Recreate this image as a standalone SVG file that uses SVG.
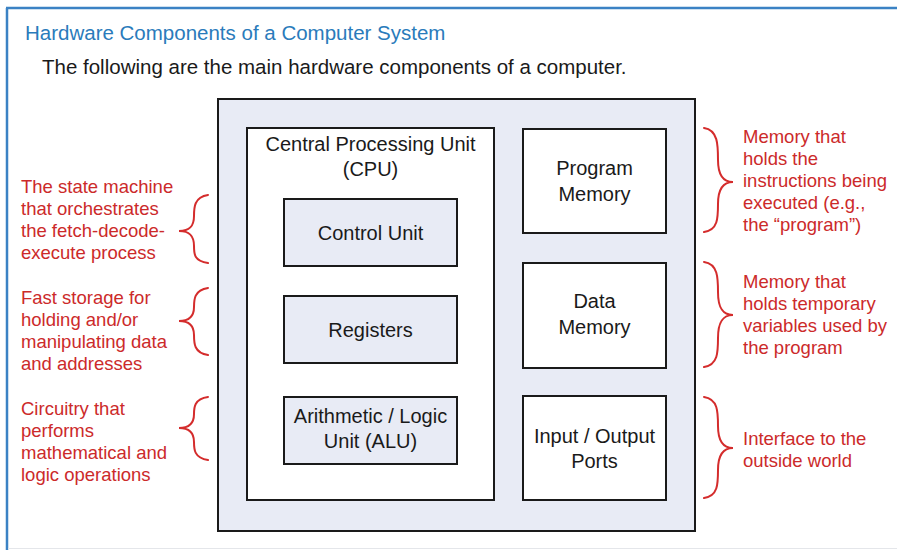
<svg xmlns="http://www.w3.org/2000/svg" width="897" height="550" viewBox="0 0 897 550">
<style>
.frame{stroke:#3b82c4;stroke-width:2.5;fill:none}
.title{font-family:"Liberation Sans",Arial,sans-serif;font-size:20.5px;fill:#2a7bbb}
.sub{font-family:"Liberation Sans",Arial,sans-serif;font-size:20.5px;fill:#1a1a1a}
.box{stroke:#1a1a1a;stroke-width:2}
.shade{fill:#e8ebf5}
.white{fill:#ffffff}
.lbl{font-family:"Liberation Sans",Arial,sans-serif;font-size:20px;fill:#1a1a1a;text-anchor:middle}
.note{font-family:"Liberation Sans",Arial,sans-serif;font-size:18.5px;fill:#cc2a2a}
.brace{fill:none;stroke:#d42c2c;stroke-width:2;stroke-linecap:round}
</style>
<rect x="0" y="0" width="897" height="550" fill="#ffffff"/>
<g id="frame">
<line class="frame" x1="6" y1="8" x2="897" y2="8"/>
<line class="frame" x1="7" y1="8" x2="7" y2="550"/>
<line x1="8" y1="548.5" x2="897" y2="548.5" stroke="#e4e6ea" stroke-width="1"/>
</g>
<text class="title" x="25" y="40">Hardware Components of a Computer System</text>
<text class="sub" x="42" y="74">The following are the main hardware components of a computer.</text>

<g id="computer">
<rect class="box shade" x="218" y="99" width="477" height="432"/>
</g>
<g id="cpu">
<rect class="box white" x="247" y="128" width="247" height="372"/>
<text class="lbl" x="370.5" y="151">Central Processing Unit</text>
<text class="lbl" x="370.5" y="176">(CPU)</text>
</g>
<g id="control-unit">
<rect class="box shade" x="284" y="199" width="173" height="67"/>
<text class="lbl" x="370.5" y="240">Control Unit</text>
</g>
<g id="registers">
<rect class="box shade" x="284" y="296" width="173" height="67"/>
<text class="lbl" x="370.5" y="337">Registers</text>
</g>
<g id="alu">
<rect class="box shade" x="284" y="397" width="173" height="67"/>
<text class="lbl" x="370.5" y="423">Arithmetic / Logic</text>
<text class="lbl" x="370.5" y="448">Unit (ALU)</text>
</g>
<g id="program-memory">
<rect class="box white" x="523" y="129" width="143" height="104"/>
<text class="lbl" x="594.5" y="175">Program</text>
<text class="lbl" x="594.5" y="201">Memory</text>
</g>
<g id="data-memory">
<rect class="box white" x="523" y="263" width="143" height="105"/>
<text class="lbl" x="594.5" y="308">Data</text>
<text class="lbl" x="594.5" y="334">Memory</text>
</g>
<g id="io-ports">
<rect class="box white" x="523" y="396" width="143" height="104"/>
<text class="lbl" x="594.5" y="443">Input / Output</text>
<text class="lbl" x="594.5" y="468">Ports</text>
</g>

<g id="connectors">
<path class="brace" d="M208,195 C194,197 194,208 194,216 C194,226 190,231 179,231 C190,231 194,236 194,246 C194,254 194,261 208,263"/>
<path class="brace" d="M208,288 C194,290 194,300 194,307 C194,316 190,321 179,321 C190,321 194,326 194,335 C194,343 194,353 208,355"/>
<path class="brace" d="M208,397 C194,399 194,408 194,414 C194,423 190,428 179,428 C190,428 194,433 194,442 C194,449 194,458 208,460"/>
<path class="brace" d="M704,128 C718,130 718,145 718,160 C718,174 722,182 733,182 C722,182 718,190 718,204 C718,218 718,230 704,232"/>
<path class="brace" d="M704,262 C718,264 718,278 718,292 C718,307 722,315 733,315 C722,315 718,323 718,338 C718,352 718,365 704,367"/>
<path class="brace" d="M704,397 C718,399 718,412 718,426 C718,440 722,448 733,448 C722,448 718,456 718,470 C718,484 718,496 704,498"/>
</g>

<g id="notes-left">
<text class="note" x="21" y="193">The state machine</text>
<text class="note" x="21" y="215">that orchestrates</text>
<text class="note" x="21" y="237">the fetch-decode-</text>
<text class="note" x="21" y="259">execute process</text>
<text class="note" x="21" y="304">Fast storage for</text>
<text class="note" x="21" y="326">holding and/or</text>
<text class="note" x="21" y="348">manipulating data</text>
<text class="note" x="21" y="370">and addresses</text>
<text class="note" x="21" y="415">Circuitry that</text>
<text class="note" x="21" y="437">performs</text>
<text class="note" x="21" y="459">mathematical and</text>
<text class="note" x="21" y="481">logic operations</text>
</g>
<g id="notes-right">
<text class="note" x="743" y="143">Memory that</text>
<text class="note" x="743" y="165">holds the</text>
<text class="note" x="743" y="187">instructions being</text>
<text class="note" x="743" y="209">executed (e.g.,</text>
<text class="note" x="743" y="231">the “program”)</text>
<text class="note" x="743" y="288">Memory that</text>
<text class="note" x="743" y="310">holds temporary</text>
<text class="note" x="743" y="332">variables used by</text>
<text class="note" x="743" y="354">the program</text>
<text class="note" x="743" y="445">Interface to the</text>
<text class="note" x="743" y="467">outside world</text>
</g>
</svg>
